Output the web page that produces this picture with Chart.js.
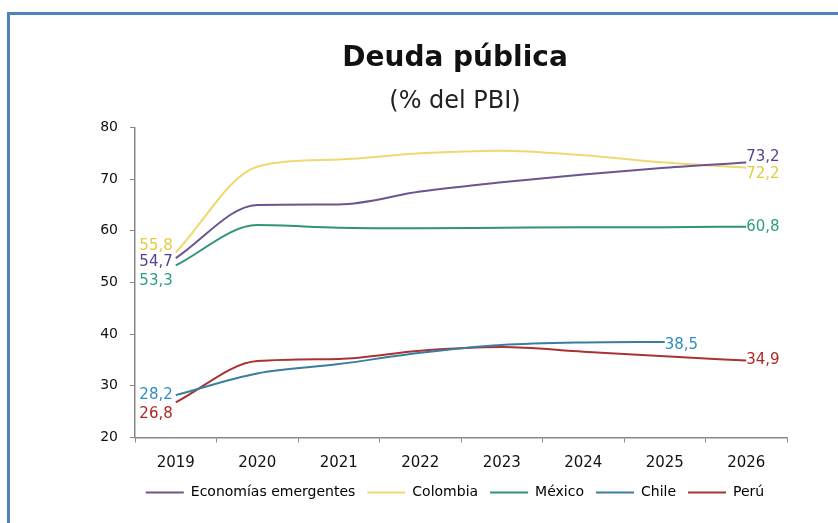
<!DOCTYPE html>
<html>
<head>
<meta charset="utf-8">
<script src="https://cdn.jsdelivr.net/npm/chart.js@4"></script>
<style>
  html, body { margin: 0; padding: 0; background: #fff; }
  #wrap { position: relative; width: 838px; height: 523px; overflow: hidden; }
  #frame { position: absolute; left: 7px; top: 12px; right: 0; bottom: 0;
           border-top: 3px solid #4f81bd; border-left: 3px solid #4f81bd; }
  #c { position: absolute; left: 0; top: 0; }
</style>
</head>
<body>
<div id="wrap">
  <div id="frame"></div>
  <canvas id="c" width="838" height="523"></canvas>
</div>
<script>
// ── Datos ────────────────────────────────────────────────────
const years       = ['2019','2020','2021','2022','2023','2024','2025','2026'];
const emergentes  = [54.7, 65.0, 65.1, 67.6, 69.4, 70.9, 72.2, 73.2];
const colombia    = [55.8, 72.4, 73.8, 75.0, 75.5, 74.6, 73.2, 72.2];
const mexico      = [53.3, 61.1, 60.6, 60.5, 60.6, 60.7, 60.7, 60.8];
const chile       = [28.2, 32.4, 34.2, 36.4, 37.9, 38.4, 38.5, null];
const peru        = [26.8, 34.8, 35.2, 36.8, 37.5, 36.6, 35.7, 34.9];
const yTicks      = [20, 30, 40, 50, 60, 70, 80];

const FONT = '"DejaVu Sans", "Liberation Sans", sans-serif';
const fmt = v => v.toFixed(1).replace('.', ',');

// etiquetas de inicio / fin (desplazamiento vertical en px)
const labelCfg = [
  { color: '#5b3f8f', first: 4,  last: -5 },
  { color: '#e3cc3a', first: -6, last: 6 },
  { color: '#2f9c82', first: 16, last: 0 },
  { color: '#2e8fc0', first: 0,  last: 3 },
  { color: '#b22424', first: 12, last: 0 },
];

const endLabels = {
  id: 'endLabels',
  afterDatasetsDraw(chart) {
    const ctx = chart.ctx;
    ctx.save();
    ctx.font = '15px ' + FONT;
    ctx.textBaseline = 'middle';
    chart.data.datasets.forEach((ds, i) => {
      const meta = chart.getDatasetMeta(i);
      const cfg = labelCfg[i];
      ctx.fillStyle = cfg.color;
      const firstIdx = ds.data.findIndex(v => v != null);
      let lastIdx = ds.data.length - 1;
      while (ds.data[lastIdx] == null) lastIdx--;
      const p0 = meta.data[firstIdx], p1 = meta.data[lastIdx];
      ctx.textAlign = 'right';
      ctx.fillText(fmt(ds.data[firstIdx]), p0.x - 3, p0.y + cfg.first);
      ctx.textAlign = 'left';
      ctx.fillText(fmt(ds.data[lastIdx]), p1.x, p1.y + cfg.last);
    });
    ctx.restore();
  }
};

const mk = (label, data, color) => ({
  label, data,
  borderColor: color, backgroundColor: color,
  borderWidth: 2, pointRadius: 0, cubicInterpolationMode: 'monotone', spanGaps: false,
});

new Chart(document.getElementById('c'), {
  type: 'line',
  data: {
    labels: years,
    datasets: [
      mk('Economías emergentes', emergentes, '#6b5490'),
      mk('Colombia', colombia, '#f0d870'),
      mk('México', mexico, '#2f9478'),
      mk('Chile', chile, '#3a7d9e'),
      mk('Perú', peru, '#a83234'),
    ]
  },
  options: {
    responsive: false, animation: false,
    layout: { padding: { top: 30, left: 72, right: 0, bottom: 13.5 } },
    plugins: {
      title: {
        display: true, text: 'Deuda pública', color: '#111',
        font: { family: FONT, size: 28, weight: 'bold' },
        padding: { top: 11.5, bottom: 0 }
      },
      subtitle: {
        display: true, text: '(% del PBI)', color: '#222',
        font: { family: FONT, size: 24 },
        padding: { top: 12, bottom: 11.5 }
      },
      legend: {
        position: 'bottom',
        labels: {
          color: '#111', font: { family: FONT, size: 14 },
          boxWidth: 38, boxHeight: 2, padding: 12,
          generateLabels: chart => chart.data.datasets.map((ds, i) => ({
            text: ds.label, fillStyle: ds.borderColor, strokeStyle: ds.borderColor,
            lineWidth: 0, datasetIndex: i, hidden: false,
          })),
        }
      },
      tooltip: { enabled: false },
    },
    scales: {
      x: {
        offset: true,
        afterFit: s => { s.height = 36; },
        grid: { display: true, drawOnChartArea: false, offset: true, tickLength: 5, color: '#888' },
        border: { color: '#888', width: 1.5 },
        ticks: { color: '#111', font: { family: FONT, size: 15 }, padding: 11.5, maxRotation: 0 },
      },
      y: {
        min: 20, max: 80,
        afterFit: s => { s.width = 63; },
        afterBuildTicks: s => { s.ticks = yTicks.map(v => ({ value: v })); },
        grid: { display: true, drawOnChartArea: false, tickLength: 5, color: '#888' },
        border: { color: '#888', width: 1.5 },
        ticks: { color: '#111', font: { family: FONT, size: 14 }, padding: 12 },
      },
      // eje vacío a la derecha: sólo reserva espacio para las etiquetas finales
      yRight: {
        position: 'right', min: 20, max: 80,
        afterFit: s => { s.width = 51; },
        grid: { display: false }, border: { display: false },
        ticks: { display: false },
      }
    }
  },
  plugins: [endLabels]
});
</script>
</body>
</html>
